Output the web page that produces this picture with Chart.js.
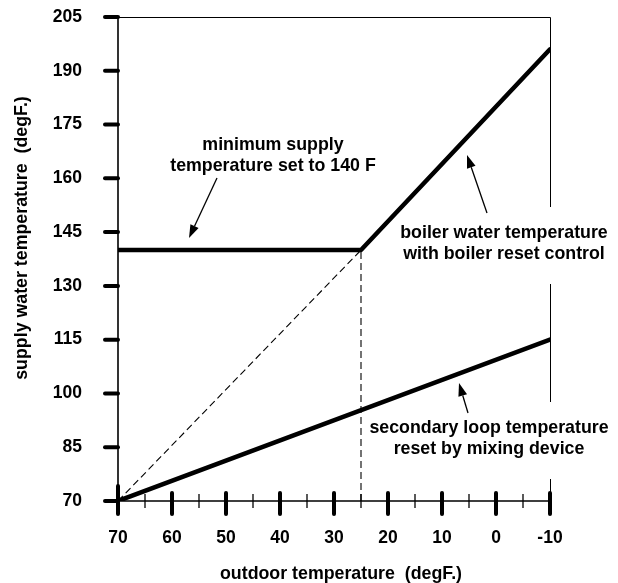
<!DOCTYPE html>
<html>
<head>
<meta charset="utf-8">
<script src="https://cdn.jsdelivr.net/npm/chart.js@4"></script>
<style>
  html, body { margin: 0; padding: 0; background: #fff; }
  #wrap { width: 618px; height: 583px; }
</style>
</head>
<body>
<div id="wrap"><canvas id="c" width="618" height="583"></canvas></div>
<script>
// ---- data ----
const xMajorTicks = [70, 60, 50, 40, 30, 20, 10, 0, -10];
const xMinorTicks = [65, 55, 45, 35, 25, 15, 5, -5];
const yTicks = [70, 85, 100, 115, 130, 145, 160, 175, 190, 205];

const boilerX = [70, 25, -10];
const boilerY = [140, 140, 196];
const secondaryX = [70, -10];
const secondaryY = [70, 115];
const dashDiagX = [70, 25];
const dashDiagY = [70, 140];
const dashVertX = [25, 25];
const dashVertY = [70, 140];

const xTitle = 'outdoor temperature  (degF.)';
const yTitle = 'supply water temperature  (degF.)';
const noteMin = ['minimum supply', 'temperature set to 140 F'];
const noteBoiler = ['boiler water temperature', 'with boiler reset control'];
const noteSecondary = ['secondary loop temperature', 'reset by mixing device'];

const toPts = (xs, ys) => xs.map((x, i) => ({ x: x, y: ys[i] }));

const FONT = '"Liberation Sans", Arial, Helvetica, sans-serif';
const fontStr = (s) => 'bold ' + s + 'px ' + FONT;
const TEXT_SIZE = 17.8;
const TICK_SIZE = 17.5;

// annotation layout (pixels)
const notes = [
  { lines: noteMin, cx: 273, cy: 145, arrow: [217, 178, 189, 238], box: false },
  { lines: noteBoiler, cx: 504, cy: 233, arrow: [487, 213, 467, 155], box: true },
  { lines: noteSecondary, cx: 489, cy: 428, arrow: [468, 413, 459, 383], box: true }
];
const LINE_GAP = 21;

function drawArrow(ctx, x1, y1, x2, y2) {
  const ang = Math.atan2(y2 - y1, x2 - x1);
  const hl = 13, hw = 4.5;
  const bx = x2 - hl * Math.cos(ang), by = y2 - hl * Math.sin(ang);
  ctx.beginPath();
  ctx.moveTo(x1, y1);
  ctx.lineTo(bx, by);
  ctx.lineWidth = 1.3;
  ctx.strokeStyle = '#000';
  ctx.stroke();
  ctx.beginPath();
  ctx.moveTo(x2, y2);
  ctx.lineTo(bx + hw * Math.sin(ang), by - hw * Math.cos(ang));
  ctx.lineTo(bx - hw * Math.sin(ang), by + hw * Math.cos(ang));
  ctx.closePath();
  ctx.fillStyle = '#000';
  ctx.fill();
}

const framePlugin = {
  id: 'frame',
  beforeDatasetsDraw(chart) {
    const ctx = chart.ctx;
    const ca = chart.chartArea;
    const xs = chart.scales.x, ys = chart.scales.y;
    ctx.save();
    ctx.strokeStyle = '#000';
    ctx.lineCap = 'butt';
    // top & right frame
    ctx.lineWidth = 1;
    ctx.beginPath();
    ctx.moveTo(ca.left, ca.top + 0.5);
    ctx.lineTo(ca.right + 0.5, ca.top + 0.5);
    ctx.lineTo(ca.right + 0.5, ca.bottom);
    ctx.stroke();
    // white boxes behind the right-hand notes
    ctx.fillStyle = '#fff';
    notes.forEach(n => {
      if (!n.box) return;
      const top = n.cy - 26;
      const bottom = n.cy + LINE_GAP + 30;
      ctx.fillRect(ca.right - 10, top, 20, bottom - top);
    });
    // left & bottom axes
    ctx.lineWidth = 1.6;
    ctx.beginPath();
    ctx.moveTo(ca.left, ca.top);
    ctx.lineTo(ca.left, ca.bottom);
    ctx.lineTo(ca.right, ca.bottom);
    ctx.stroke();
    // y tick marks
    ctx.lineCap = 'round';
    ctx.lineWidth = 4;
    yTicks.forEach(v => {
      const y = ys.getPixelForValue(v);
      ctx.beginPath();
      ctx.moveTo(ca.left - 13, y);
      ctx.lineTo(ca.left, y);
      ctx.stroke();
    });
    // x major ticks
    xMajorTicks.forEach((v, i) => {
      const x = xs.getPixelForValue(v);
      ctx.beginPath();
      ctx.moveTo(x, ca.bottom - (i === 0 ? 15 : 8));
      ctx.lineTo(x, ca.bottom + 13);
      ctx.stroke();
    });
    // x minor ticks
    ctx.lineCap = 'butt';
    ctx.lineWidth = 1.3;
    xMinorTicks.forEach(v => {
      const x = xs.getPixelForValue(v);
      ctx.beginPath();
      ctx.moveTo(x, ca.bottom - 7);
      ctx.lineTo(x, ca.bottom + 7);
      ctx.stroke();
    });
    ctx.restore();
  },
  afterDatasetsDraw(chart) {
    const ctx = chart.ctx;
    ctx.save();
    ctx.fillStyle = '#000';
    ctx.textAlign = 'center';
    ctx.textBaseline = 'middle';
    ctx.font = fontStr(TEXT_SIZE);
    notes.forEach(n => {
      n.lines.forEach((t, i) => ctx.fillText(t, n.cx, n.cy + i * LINE_GAP));
      drawArrow(ctx, n.arrow[0], n.arrow[1], n.arrow[2], n.arrow[3]);
    });
    // axis titles
    ctx.fillStyle = '#000';
    ctx.font = fontStr(TEXT_SIZE);
    ctx.fillText(xTitle, 341, 574);
    ctx.translate(22, 238);
    ctx.rotate(-Math.PI / 2);
    ctx.fillText(yTitle, 0, 0);
    ctx.restore();
  }
};

new Chart(document.getElementById('c'), {
  type: 'scatter',
  data: {
    datasets: [
      { label: 'boiler water temperature', data: toPts(boilerX, boilerY),
        showLine: true, borderColor: '#000', borderWidth: 4.5, pointRadius: 0,
        borderCapStyle: 'round', borderJoinStyle: 'round', tension: 0 },
      { label: 'secondary loop temperature', data: toPts(secondaryX, secondaryY),
        showLine: true, borderColor: '#000', borderWidth: 4.5, pointRadius: 0,
        borderCapStyle: 'round', tension: 0 },
      { label: 'reset line', data: toPts(dashDiagX, dashDiagY),
        showLine: true, borderColor: '#000', borderWidth: 1.1, borderDash: [7, 4], pointRadius: 0 },
      { label: 'breakpoint', data: toPts(dashVertX, dashVertY),
        showLine: true, borderColor: '#000', borderWidth: 1.1, borderDash: [7, 4], pointRadius: 0 }
    ]
  },
  options: {
    responsive: false,
    animation: false,
    events: [],
    layout: { padding: { top: 17, right: 68, left: 0, bottom: 0 } },
    plugins: { legend: { display: false }, tooltip: { enabled: false }, title: { display: false } },
    scales: {
      x: {
        type: 'linear', reverse: true, min: -10, max: 70,
        afterBuildTicks: (s) => { s.ticks = xMajorTicks.map(v => ({ value: v })); },
        afterFit: (s) => { s.height = 82; },
        grid: { display: false, drawTicks: true, tickLength: 27 },
        border: { display: false },
        ticks: { color: '#000', font: { family: FONT, size: TICK_SIZE, weight: 'bold' }, padding: 0,
                 maxRotation: 0, autoSkip: false },
        title: { display: false }
      },
      y: {
        type: 'linear', min: 70, max: 205,
        afterBuildTicks: (s) => { s.ticks = yTicks.map(v => ({ value: v })); },
        afterFit: (s) => { s.width = 118; },
        grid: { display: false, drawTicks: true, tickLength: 36 },
        border: { display: false },
        ticks: { color: '#000', font: { family: FONT, size: TICK_SIZE, weight: 'bold' }, padding: 0,
                 autoSkip: false },
        title: { display: false }
      }
    }
  },
  plugins: [framePlugin]
});
</script>
</body>
</html>
